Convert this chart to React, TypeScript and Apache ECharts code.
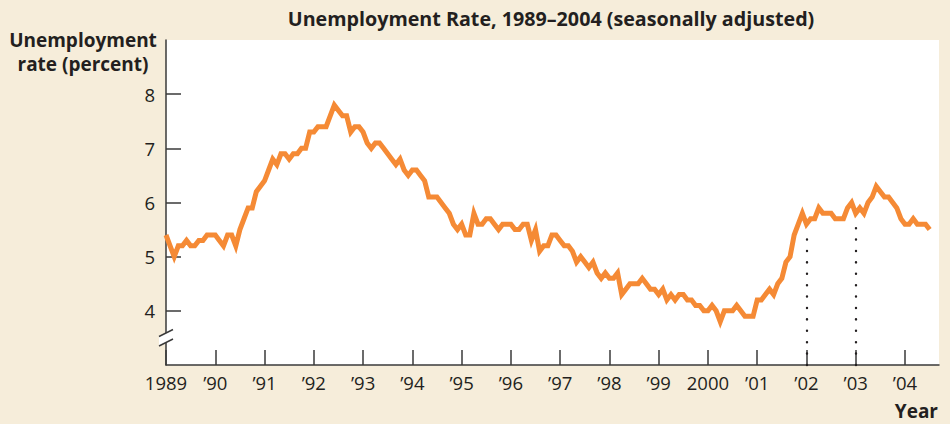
import React, { useEffect, useRef } from "react";
import * as echarts from "echarts";

// Monthly unemployment rate (percent), seasonally adjusted, Jan 1989 – Jul 2004
const y1989 = [5.4, 5.2, 5.0, 5.2, 5.2, 5.3, 5.2, 5.2, 5.3, 5.3, 5.4, 5.4];
const y1990 = [5.4, 5.3, 5.2, 5.4, 5.4, 5.2, 5.5, 5.7, 5.9, 5.9, 6.2, 6.3];
const y1991 = [6.4, 6.6, 6.8, 6.7, 6.9, 6.9, 6.8, 6.9, 6.9, 7.0, 7.0, 7.3];
const y1992 = [7.3, 7.4, 7.4, 7.4, 7.6, 7.8, 7.7, 7.6, 7.6, 7.3, 7.4, 7.4];
const y1993 = [7.3, 7.1, 7.0, 7.1, 7.1, 7.0, 6.9, 6.8, 6.7, 6.8, 6.6, 6.5];
const y1994 = [6.6, 6.6, 6.5, 6.4, 6.1, 6.1, 6.1, 6.0, 5.9, 5.8, 5.6, 5.5];
const y1995 = [5.6, 5.4, 5.4, 5.8, 5.6, 5.6, 5.7, 5.7, 5.6, 5.5, 5.6, 5.6];
const y1996 = [5.6, 5.5, 5.5, 5.6, 5.6, 5.3, 5.5, 5.1, 5.2, 5.2, 5.4, 5.4];
const y1997 = [5.3, 5.2, 5.2, 5.1, 4.9, 5.0, 4.9, 4.8, 4.9, 4.7, 4.6, 4.7];
const y1998 = [4.6, 4.6, 4.7, 4.3, 4.4, 4.5, 4.5, 4.5, 4.6, 4.5, 4.4, 4.4];
const y1999 = [4.3, 4.4, 4.2, 4.3, 4.2, 4.3, 4.3, 4.2, 4.2, 4.1, 4.1, 4.0];
const y2000 = [4.0, 4.1, 4.0, 3.8, 4.0, 4.0, 4.0, 4.1, 4.0, 3.9, 3.9, 3.9];
const y2001 = [4.2, 4.2, 4.3, 4.4, 4.3, 4.5, 4.6, 4.9, 5.0, 5.4, 5.6, 5.8];
const y2002 = [5.6, 5.7, 5.7, 5.9, 5.8, 5.8, 5.8, 5.7, 5.7, 5.7, 5.9, 6.0];
const y2003 = [5.8, 5.9, 5.8, 6.0, 6.1, 6.3, 6.2, 6.1, 6.1, 6.0, 5.9, 5.7];
const y2004 = [5.6, 5.6, 5.7, 5.6, 5.6, 5.6, 5.5];

const startYear = 1989;
const monthlyRates = [
  ...y1989, ...y1990, ...y1991, ...y1992, ...y1993, ...y1994, ...y1995, ...y1996,
  ...y1997, ...y1998, ...y1999, ...y2000, ...y2001, ...y2002, ...y2003, ...y2004,
];

const yearTicks = [1989, 1990, 1991, 1992, 1993, 1994, 1995, 1996, 1997, 1998, 1999, 2000, 2001, 2002, 2003, 2004];
const rateTicks = [4, 5, 6, 7, 8];

// Dotted reference lines: [year, top value]
const markerYears = [2002, 2003];
const markerTops = [5.45, 5.65];

const TITLE = "Unemployment Rate, 1989\u20132004 (seasonally adjusted)";
const Y_NAME = "Unemployment\nrate (percent)";
const X_NAME = "Year";

const INK = "#231F20";
const AXIS = "#3a3a3a";
const ORANGE = "#F58A35";
const BG = "#F6EDDA";
const FONT = '"Open Sans", "Noto Sans", sans-serif';

export default function App() {
  const ref = useRef<HTMLDivElement>(null);

  useEffect(() => {
    document.body.style.margin = "0";
    if (!ref.current) return;
    const chart = echarts.init(ref.current, undefined, { renderer: "svg" });

    const seriesData = monthlyRates.map((v, i) => [startYear + i / 12, v]);

    const option: any = {
      animation: false,
      backgroundColor: BG,
      textStyle: { fontFamily: FONT },
      grid: {
        left: 166,
        top: 40,
        right: 11,
        bottom: 59,
        show: true,
        backgroundColor: "#ffffff",
        borderWidth: 0,
      },
      xAxis: {
        type: "value",
        min: 1989,
        max: 2004.69,
        interval: 1,
        splitLine: { show: false },
        axisLine: { show: true, lineStyle: { color: AXIS, width: 1.5 } },
        axisTick: {
          show: true,
          inside: true,
          length: 15,
          lineStyle: { color: AXIS, width: 1.5 },
          customValues: yearTicks,
        },
        axisLabel: {
          show: true,
          customValues: yearTicks,
          color: INK,
          fontSize: 18.5,
          fontFamily: FONT,
          margin: 8,
          formatter: (v: number) =>
            v === 1989 || v === 2000 ? String(v) : "\u2019" + String(v).slice(2),
        },
      },
      yAxis: {
        type: "value",
        min: 3,
        max: 9,
        interval: 1,
        splitLine: { show: false },
        axisLine: { show: true, lineStyle: { color: AXIS, width: 1.5 } },
        axisTick: {
          show: true,
          inside: true,
          length: 15,
          lineStyle: { color: AXIS, width: 1.5 },
          customValues: rateTicks,
        },
        axisLabel: {
          show: true,
          customValues: rateTicks,
          color: INK,
          fontSize: 18.5,
          fontFamily: FONT,
          margin: 11,
        },
      },
      series: [
        {
          type: "line",
          data: seriesData,
          showSymbol: false,
          symbol: "none",
          lineStyle: { color: ORANGE, width: 5, join: "miter", miterLimit: 6 },
          z: 3,
          markLine: {
            silent: true,
            symbol: ["none", "none"],
            label: { show: false },
            z: 2,
            lineStyle: { color: INK, width: 2.4, type: [0.1, 11.3], cap: "round" },
            data: markerYears.map((yr, i) => [
              { coord: [yr, 3] },
              { coord: [yr, markerTops[i]] },
            ]),
          },
        },
      ],
      graphic: [
        {
          type: "text",
          x: 551,
          y: 18,
          style: {
            text: TITLE,
            fill: INK,
            font: `bold 19.7px ${FONT}`,
            textAlign: "center",
            textVerticalAlign: "middle",
          },
        },
        {
          type: "text",
          x: 83,
          y: 28,
          style: {
            text: Y_NAME,
            fill: INK,
            font: `bold 19px ${FONT}`,
            textAlign: "center",
            textVerticalAlign: "top",
            lineHeight: 24,
          },
        },
        {
          type: "text",
          x: 938,
          y: 411,
          style: {
            text: X_NAME,
            fill: INK,
            font: `bold 19px ${FONT}`,
            textAlign: "right",
            textVerticalAlign: "middle",
            lineHeight: 20,
          },
        },
        {
          type: "polygon",
          z: 100,
          shape: { points: [[159, 336.5], [173, 329.5], [173, 339], [159, 346]] },
          style: { fill: "#ffffff" },
        },
        {
          type: "line",
          z: 101,
          shape: { x1: 159, y1: 336.5, x2: 173, y2: 329.5 },
          style: { stroke: AXIS, lineWidth: 1.5 },
        },
        {
          type: "line",
          z: 101,
          shape: { x1: 159, y1: 346, x2: 173, y2: 339 },
          style: { stroke: AXIS, lineWidth: 1.5 },
        },
      ],
    };

    chart.setOption(option);
    return () => chart.dispose();
  }, []);

  return (
    <div
      ref={ref}
      style={{ position: "absolute", left: 0, top: 0, width: 950, height: 424 }}
    />
  );
}
